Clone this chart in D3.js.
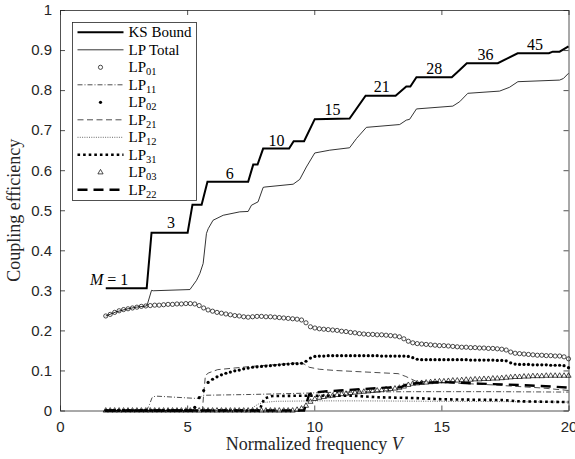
<!DOCTYPE html>
<html>
<head>
<meta charset="utf-8">
<script src="https://cdn.jsdelivr.net/npm/d3@7"></script>
<style>
body { margin: 0; background: #fff; }
</style>
</head>
<body>
<script>
// Axis ticks
const xTicks = [0, 5, 10, 15, 20];
const yTicks = [0, 0.1, 0.2, 0.3, 0.4, 0.5, 0.6, 0.7, 0.8, 0.9, 1];

// KS bound (staircase)
const ksV = [1.8, 3.41, 3.60, 5.02, 5.21, 5.57, 5.80, 7.40, 7.60, 7.77, 7.99, 9.01, 9.19, 9.60, 10.02, 11.39, 12.02, 13.20, 13.62, 13.78, 14.02, 15.41, 15.72, 16.00, 17.22, 17.6, 18.0, 19.23, 19.38, 19.65, 20.0];
const ksY = [0.305, 0.305, 0.444, 0.444, 0.514, 0.514, 0.571, 0.571, 0.614, 0.614, 0.654, 0.654, 0.6725, 0.6725, 0.7275, 0.729, 0.786, 0.786, 0.809, 0.809, 0.832, 0.832, 0.850, 0.867, 0.867, 0.879, 0.892, 0.892, 0.896, 0.896, 0.909];

// LP total
const totV = [1.8, 2.2, 2.6, 3.0, 3.4, 3.45, 3.60, 3.67, 5.11, 5.37, 5.50, 5.63, 5.76, 5.83, 6.02, 6.42, 7.07, 7.40, 7.53, 7.79, 7.99, 8.06, 9.17, 9.43, 9.69, 10.02, 10.61, 11.39, 11.66, 12.05, 13.36, 13.62, 13.75, 14.02, 15.45, 15.72, 16.04, 17.29, 17.68, 18.01, 19.65, 19.80, 20.0];
const totY = [0.236, 0.246, 0.253, 0.258, 0.261, 0.268, 0.300, 0.299, 0.302, 0.325, 0.342, 0.367, 0.442, 0.454, 0.475, 0.4875, 0.496, 0.497, 0.5125, 0.521, 0.557, 0.558, 0.565, 0.577, 0.608, 0.643, 0.650, 0.656, 0.679, 0.707, 0.714, 0.725, 0.727, 0.753, 0.760, 0.771, 0.792, 0.7975, 0.807, 0.821, 0.825, 0.829, 0.842];

// marker series sampled on 105 points, V = 1.8 ... 20 (step 0.175)
const vGrid = d3.range(105).map(i => Math.round((1.8 + 0.175 * i) * 1000) / 1000);
const lp01 = [
  0.236, 0.240, 0.245, 0.249, 0.252, 0.254, 0.256, 0.258, 0.260, 0.261,
  0.262, 0.263, 0.263, 0.264, 0.265, 0.265, 0.266, 0.266, 0.267, 0.267,
  0.266, 0.262, 0.256, 0.251, 0.248, 0.245, 0.243, 0.241, 0.239, 0.237,
  0.236, 0.234, 0.233, 0.234, 0.235, 0.235, 0.234, 0.234, 0.233, 0.232,
  0.231, 0.230, 0.229, 0.228, 0.226, 0.219, 0.209, 0.206, 0.204, 0.203,
  0.202, 0.201, 0.200, 0.198, 0.197, 0.195, 0.194, 0.192, 0.191, 0.190,
  0.190, 0.189, 0.189, 0.188, 0.187, 0.186, 0.184, 0.179, 0.173, 0.169,
  0.167, 0.166, 0.165, 0.164, 0.163, 0.162, 0.162, 0.161, 0.160, 0.159,
  0.158, 0.158, 0.157, 0.157, 0.156, 0.156, 0.155, 0.155, 0.154, 0.153,
  0.151, 0.146, 0.143, 0.142, 0.141, 0.140, 0.139, 0.138, 0.138, 0.137,
  0.137, 0.136, 0.136, 0.134, 0.129
];
const lp02 = [
  0, 0, 0, 0, 0, 0, 0, 0, 0, 0,
  0, 0, 0, 0, 0, 0, 0, 0, 0, 0,
  0.008, 0.032, 0.050, 0.070, 0.078, 0.084, 0.089, 0.093, 0.096, 0.099,
  0.101, 0.104, 0.106, 0.108, 0.109, 0.110, 0.111, 0.112, 0.113, 0.114,
  0.115, 0.116, 0.117, 0.117, 0.118, 0.123, 0.131, 0.135, 0.136, 0.136,
  0.137, 0.137, 0.137, 0.137, 0.137, 0.137, 0.137, 0.137, 0.137, 0.137,
  0.137, 0.137, 0.136, 0.136, 0.136, 0.136, 0.136, 0.136, 0.135, 0.132,
  0.128, 0.127, 0.127, 0.127, 0.127, 0.127, 0.127, 0.127, 0.127, 0.127,
  0.127, 0.127, 0.126, 0.126, 0.126, 0.126, 0.126, 0.126, 0.125, 0.125,
  0.124, 0.119, 0.116, 0.115, 0.115, 0.115, 0.114, 0.114, 0.114, 0.114,
  0.113, 0.113, 0.113, 0.112, 0.107
];
const lp03 = [
  0, 0, 0, 0, 0, 0, 0, 0, 0, 0,
  0, 0, 0, 0, 0, 0, 0, 0, 0, 0,
  0, 0, 0, 0, 0, 0, 0, 0, 0, 0,
  0, 0, 0, 0, 0, 0, 0, 0, 0, 0,
  0, 0, 0, 0.002, 0.005, 0.012, 0.022, 0.029, 0.032, 0.034,
  0.036, 0.037, 0.039, 0.041, 0.042, 0.044, 0.045, 0.046, 0.047, 0.048,
  0.049, 0.050, 0.051, 0.053, 0.054, 0.055, 0.057, 0.060, 0.064, 0.067,
  0.068, 0.069, 0.070, 0.071, 0.072, 0.073, 0.073, 0.074, 0.075, 0.075,
  0.076, 0.077, 0.077, 0.078, 0.078, 0.079, 0.079, 0.080, 0.080, 0.081,
  0.082, 0.083, 0.084, 0.084, 0.085, 0.085, 0.086, 0.086, 0.086, 0.087,
  0.087, 0.087, 0.087, 0.087, 0.087
];

// line series (V, value)
const lp11V = [1.8, 3.4, 3.52, 3.62, 3.75, 5.4, 5.65, 7.5, 9.5, 11, 14, 17, 20];
const lp11Y = [0, 0, 0.015, 0.032, 0.036, 0.030, 0.038, 0.040, 0.043, 0.046, 0.047, 0.047, 0.046];
const lp21V = [1.8, 5.6, 5.65, 5.72, 5.85, 6.2, 7.5, 9.4, 9.6, 9.8, 10.2, 10.8, 13.3, 13.6, 14.0, 15, 17, 18, 19, 20];
const lp21Y = [0, 0, 0.040, 0.088, 0.094, 0.102, 0.110, 0.119, 0.116, 0.108, 0.103, 0.100, 0.092, 0.085, 0.073, 0.070, 0.064, 0.060, 0.056, 0.050];
const lp12V = [1.8, 7.45, 7.6, 7.8, 8.0, 8.5, 10, 12, 15, 18, 20];
const lp12Y = [0, 0, 0.008, 0.016, 0.020, 0.023, 0.024, 0.024, 0.023, 0.022, 0.021];
const lp31V = [1.8, 7.85, 7.95, 8.05, 8.3, 9.6, 11.5, 12.5, 14, 15, 17.5, 18, 20];
const lp31Y = [0, 0, 0.018, 0.030, 0.036, 0.037, 0.037, 0.033, 0.031, 0.028, 0.026, 0.023, 0.021];
const lp22V = [1.8, 9.6, 9.7, 9.8, 10.0, 10.5, 11, 12, 12.8, 13.4, 13.6, 14.0, 15.0, 15.5, 16.5, 17.5, 18.5, 19.3, 20];
const lp22Y = [0, 0, 0.020, 0.040, 0.045, 0.048, 0.050, 0.054, 0.057, 0.058, 0.064, 0.068, 0.071, 0.070, 0.067, 0.065, 0.0625, 0.060, 0.057];

// mode-count annotations
const annoText = ["3", "6", "10", "15", "21", "28", "36", "45"];
const annoV = [4.37, 6.68, 8.52, 10.72, 12.65, 14.72, 16.74, 18.68];
const annoY = [0.4555, 0.5775, 0.6595, 0.737, 0.7955, 0.839, 0.874, 0.899];

const width = 575, height = 459;
const x = d3.scaleLinear().domain([0, 20]).range([60, 568.5]);
const y = d3.scaleLinear().domain([0, 1]).range([410.5, 10]);

const svg = d3.select("body").append("svg")
    .attr("width", width)
    .attr("height", height);

const sans = "'Liberation Sans', Arial, Helvetica, sans-serif";
const serif = "'Liberation Serif', 'DejaVu Serif', 'Noto Serif', 'Times New Roman', Times, serif";
const axisColor = "#262626";

// axes
function styleAxis(g) {
    g.attr("font-family", null);
    g.select(".domain").attr("stroke", axisColor).attr("stroke-width", 0.8);
    g.selectAll(".tick line").attr("stroke", axisColor).attr("stroke-width", 0.8);
    g.selectAll("text").attr("fill", axisColor).style("font-family", sans).style("font-size", "15px");
}
svg.append("g").attr("transform", `translate(0,${y(0)})`)
    .call(d3.axisBottom(x).tickValues(xTicks).tickSize(-5).tickSizeOuter(0).tickPadding(11))
    .call(styleAxis);
svg.append("g").attr("transform", `translate(0,${y(1)})`)
    .call(d3.axisTop(x).tickValues(xTicks).tickSize(-5).tickSizeOuter(0).tickFormat(""))
    .call(styleAxis);
svg.append("g").attr("transform", `translate(${x(0)},0)`)
    .call(d3.axisLeft(y).tickValues(yTicks).tickSize(-5).tickSizeOuter(0).tickPadding(8)
        .tickFormat(d => String(+d.toFixed(1))))
    .call(styleAxis);
svg.append("g").attr("transform", `translate(${x(20)},0)`)
    .call(d3.axisRight(y).tickValues(yTicks).tickSize(-5).tickSizeOuter(0).tickFormat(""))
    .call(styleAxis);

// axis labels
svg.append("text")
    .attr("x", (x(0) + x(20)) / 2).attr("y", 450)
    .attr("text-anchor", "middle")
    .attr("font-family", serif).attr("font-size", 18).attr("fill", axisColor)
    .html("Normalized frequency <tspan font-style='italic'>V</tspan>");
svg.append("text")
    .attr("transform", `translate(20,${(y(0) + y(1)) / 2}) rotate(-90)`)
    .attr("text-anchor", "middle")
    .attr("font-family", serif).attr("font-size", 18).attr("fill", axisColor)
    .text("Coupling efficiency");

// helpers
const line = d3.line().x(d => x(d[0])).y(d => y(d[1]));
const pairs = (vs, ys) => vs.map((v, i) => [v, ys[i]]);
const tri = "M0,-2.9L2.6,1.6L-2.6,1.6Z";

const series = [
    { name: "KS Bound", type: "line", data: pairs(ksV, ksY), w: 2, dash: null },
    { name: "LP Total", type: "line", data: pairs(totV, totY), w: 0.8, dash: null },
    { name: "LP", sub: "01", type: "circle", data: pairs(vGrid, lp01) },
    { name: "LP", sub: "11", type: "line", data: pairs(lp11V, lp11Y), w: 0.7, dash: "5,2,1,2" },
    { name: "LP", sub: "02", type: "dot", data: pairs(vGrid, lp02) },
    { name: "LP", sub: "21", type: "line", data: pairs(lp21V, lp21Y), w: 0.7, dash: "6,3.5" },
    { name: "LP", sub: "12", type: "line", data: pairs(lp12V, lp12Y), w: 0.6, dash: "1,1.3" },
    { name: "LP", sub: "31", type: "line", data: pairs(lp31V, lp31Y), w: 2.6, dash: "2.6,3" },
    { name: "LP", sub: "03", type: "tri", data: pairs(vGrid, lp03) },
    { name: "LP", sub: "22", type: "line", data: pairs(lp22V, lp22Y), w: 2.4, dash: "10,6" }
];

const plot = svg.append("g");
series.forEach(s => {
    if (s.type === "line") {
        plot.append("path")
            .attr("d", line(s.data))
            .attr("fill", "none")
            .attr("stroke", "#000")
            .attr("stroke-width", s.w)
            .attr("stroke-dasharray", s.dash);
    } else if (s.type === "circle") {
        plot.append("g").selectAll("circle").data(s.data).enter().append("circle")
            .attr("cx", d => x(d[0])).attr("cy", d => y(d[1])).attr("r", 2.1)
            .attr("fill", "none").attr("stroke", "#000").attr("stroke-width", 0.7);
    } else if (s.type === "dot") {
        plot.append("g").selectAll("circle").data(s.data).enter().append("circle")
            .attr("cx", d => x(d[0])).attr("cy", d => y(d[1])).attr("r", 1.6)
            .attr("fill", "#000");
    } else {
        plot.append("g").selectAll("path").data(s.data).enter().append("path")
            .attr("transform", d => `translate(${x(d[0])},${y(d[1])})`)
            .attr("d", tri)
            .attr("fill", "none").attr("stroke", "#000").attr("stroke-width", 0.7);
    }
});

// annotations
svg.append("g").selectAll("text").data(annoText).enter().append("text")
    .attr("x", (d, i) => x(annoV[i]))
    .attr("y", (d, i) => y(annoY[i]))
    .attr("text-anchor", "middle")
    .attr("font-family", serif).attr("font-size", 16)
    .text(d => d);
svg.append("text")
    .attr("x", x(1.93)).attr("y", y(0.314))
    .attr("text-anchor", "middle")
    .attr("font-family", serif).attr("font-size", 16)
    .html("<tspan font-style='italic'>M</tspan> = 1");

// legend
const leg = svg.append("g");
leg.append("rect")
    .attr("x", 72.5).attr("y", 22.5).attr("width", 124).attr("height", 178)
    .attr("fill", "#fff").attr("stroke", axisColor).attr("stroke-width", 0.8);
series.forEach((s, i) => {
    const cy = 32.3 + i * 17.5;
    const x0 = 77.5, x1 = 123.5, xm = (x0 + x1) / 2;
    if (s.type === "line") {
        leg.append("line")
            .attr("x1", x0).attr("x2", x1).attr("y1", cy).attr("y2", cy)
            .attr("stroke", "#000").attr("stroke-width", s.w)
            .attr("stroke-dasharray", s.dash);
    } else if (s.type === "circle") {
        leg.append("circle").attr("cx", xm).attr("cy", cy).attr("r", 2.1)
            .attr("fill", "none").attr("stroke", "#000").attr("stroke-width", 0.7);
    } else if (s.type === "dot") {
        leg.append("circle").attr("cx", xm).attr("cy", cy).attr("r", 1.6).attr("fill", "#000");
    } else {
        leg.append("path").attr("transform", `translate(${xm},${cy})`).attr("d", tri)
            .attr("fill", "none").attr("stroke", "#000").attr("stroke-width", 0.7);
    }
    const t = leg.append("text")
        .attr("x", 128.5).attr("y", cy + 5)
        .attr("font-family", serif).attr("font-size", 15)
        .attr("fill", "#000")
        .text(s.name);
    if (s.sub) {
        t.append("tspan").attr("dy", 3).attr("font-size", 10.5).text(s.sub);
    }
});
</script>
</body>
</html>
